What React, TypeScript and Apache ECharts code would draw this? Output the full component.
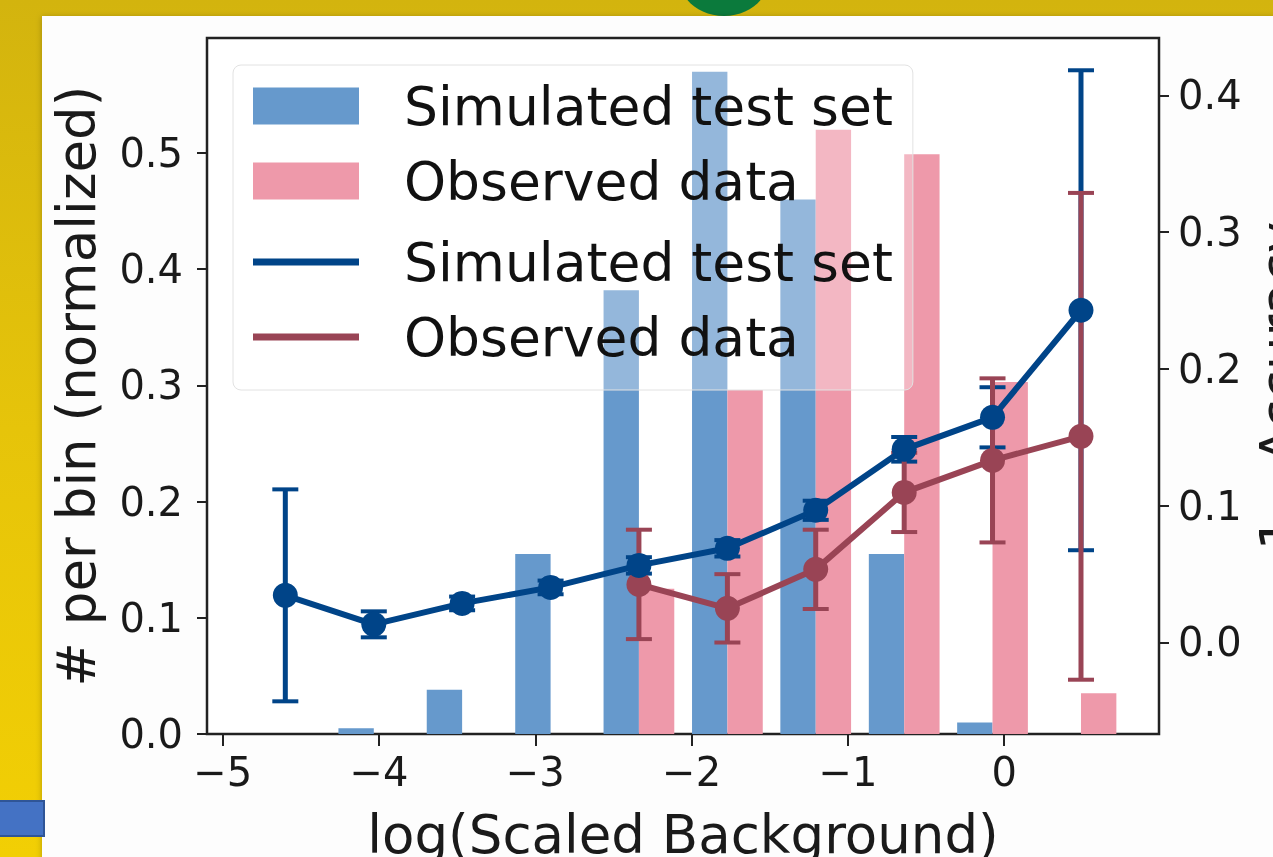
import React, { useEffect, useRef } from "react";
import * as echarts from "echarts";

// Histogram bins (centers in log(Scaled Background))
const binCenters = [-4.599, -4.033, -3.468, -2.902, -2.337, -1.771, -1.206, -0.64, -0.075, 0.491];
const binWidth = 0.5656;
// # per bin (normalized)
const simHist = [0, 0.005, 0.038, 0.155, 0.382, 0.57, 0.46, 0.155, 0.01, 0];
const obsHist = [0, 0, 0, 0, 0.125, 0.296, 0.52, 0.499, 0.303, 0.035];
// 1 - Accuracy with error
const simRate = [0.0344, 0.0132, 0.0285, 0.0402, 0.0563, 0.0688, 0.0966, 0.1412, 0.1646, 0.2429];
const simErr = [0.0775, 0.0095, 0.005, 0.005, 0.006, 0.006, 0.007, 0.009, 0.022, 0.1755];
const obsRate = [null, null, null, null, 0.0424, 0.0249, 0.0534, 0.1097, 0.1331, 0.1507];
const obsErr = [null, null, null, null, 0.04, 0.025, 0.029, 0.029, 0.06, 0.178];

const xTicks = [-5, -4, -3, -2, -1, 0];
const leftTicks = [0, 0.1, 0.2, 0.3, 0.4, 0.5];
const rightTicks = [0, 0.1, 0.2, 0.3, 0.4];

const LIGHT_BLUE = "#6699CC";
const LIGHT_RED = "#EE99AA";
const DARK_BLUE = "#004488";
const DARK_RED = "#994455";
const FONT = "DejaVu Sans";
const AX = "#222";

const lineIcon = "path://M0,0h0.01v0.01h-0.01z M0,15h106v7h-106z M105.99,36.99h0.01v0.01h-0.01z";

function barRenderer(offL: number, offR: number, color: string) {
  return (params: any, api: any) => {
    const c = api.value(0);
    const v = api.value(1);
    if (!v) return null;
    const p0 = api.coord([c + offL * binWidth, v]);
    const p1 = api.coord([c + offR * binWidth, 0]);
    return {
      type: "rect",
      shape: { x: p0[0], y: p0[1], width: p1[0] - p0[0], height: p1[1] - p0[1] },
      style: { fill: color },
    };
  };
}

function errRenderer(color: string) {
  return (params: any, api: any) => {
    const x = api.value(0);
    const y = api.value(1);
    const e = api.value(2);
    const t = api.coord([x, y + e]);
    const b = api.coord([x, y - e]);
    const cap = 13;
    return {
      type: "group",
      children: [
        { type: "line", shape: { x1: t[0], y1: t[1], x2: b[0], y2: b[1] }, style: { stroke: color, lineWidth: 5 } },
        { type: "line", shape: { x1: t[0] - cap, y1: t[1], x2: t[0] + cap, y2: t[1] }, style: { stroke: color, lineWidth: 4 } },
        { type: "line", shape: { x1: b[0] - cap, y1: b[1], x2: b[0] + cap, y2: b[1] }, style: { stroke: color, lineWidth: 4 } },
      ],
    };
  };
}

export default function App() {
  const ref = useRef<HTMLDivElement>(null);
  useEffect(() => {
    const chart = echarts.init(ref.current!, null, { renderer: "svg" });

    const simBars = binCenters.map((c, i) => [c, simHist[i]]);
    const obsBars = binCenters.map((c, i) => [c, obsHist[i]]);
    const simPts = binCenters.map((c, i) => [c, simRate[i]]);
    const simErrData = binCenters.map((c, i) => [c, simRate[i], simErr[i]]);
    const obsPts = binCenters
      .map((c, i) => [c, obsRate[i]])
      .filter((d) => d[1] !== null);
    const obsErrData = binCenters
      .map((c, i) => [c, obsRate[i], obsErr[i]])
      .filter((d) => d[1] !== null);

    const tickLabel = { fontFamily: FONT, fontSize: 40, color: "#1a1a1a" };
    const legendText = { fontFamily: FONT, fontSize: 53.5, color: "#111", padding: [0, 0, 0, 40] };

    chart.setOption({
      animation: false,
      graphic: [
        {
          type: "rect",
          z: -20,
          shape: { x: 0, y: 0, width: 1273, height: 857 },
          style: {
            fill: new echarts.graphic.LinearGradient(0, 0, 0, 1, [
              { offset: 0, color: "#d3b40e" },
              { offset: 0.5, color: "#e6c40a" },
              { offset: 1, color: "#f2cf04" },
            ]),
          },
        },
        {
          type: "ellipse",
          z: -19,
          shape: { cx: 724, cy: -20, rx: 44, ry: 36 },
          style: { fill: "#0b7a3c" },
        },
        {
          type: "rect",
          z: -18,
          shape: { x: 42, y: 16, width: 1240, height: 850 },
          style: { fill: "#fdfdfd", shadowBlur: 6, shadowColor: "rgba(0,0,0,0.25)", shadowOffsetY: 1 },
        },
        {
          type: "rect",
          z: 50,
          shape: { x: -2, y: 801, width: 46, height: 35 },
          style: { fill: "#4472c4", stroke: "#2f5597", lineWidth: 2 },
        },
      ],
      grid: {
        left: 207,
        right: 114,
        top: 38,
        bottom: 123,
        outerBoundsMode: "none",
        containLabel: false,
        show: true,
        backgroundColor: "#ffffff",
        borderColor: AX,
        borderWidth: 2.5,
      },
      legend: [
        {
          left: 233,
          top: 65,
          orient: "vertical",
          selectedMode: false,
          itemWidth: 106,
          itemHeight: 37,
          itemGap: 21,
          padding: [14, 20, 182, 20],
          backgroundColor: "rgba(255,255,255,0.3)",
          borderColor: "#e2e2e2",
          borderWidth: 1,
          borderRadius: 8,
          z: 10,
          textStyle: legendText,
          data: [
            { name: "Simulated test set", icon: "rect", itemStyle: { color: LIGHT_BLUE } },
            { name: "Observed data", icon: "rect", itemStyle: { color: LIGHT_RED } },
          ],
        },
        {
          left: 253,
          top: 235,
          orient: "vertical",
          selectedMode: false,
          itemWidth: 106,
          itemHeight: 37,
          itemGap: 21,
          padding: 0,
          z: 11,
          textStyle: legendText,
          data: [
            { name: "Simulated test set", icon: lineIcon, itemStyle: { color: DARK_BLUE } },
            { name: "Observed data", icon: lineIcon, itemStyle: { color: DARK_RED } },
          ],
        },
      ],
      xAxis: {
        type: "value",
        min: -5.1,
        max: 0.99,
        name: "log(Scaled Background)",
        nameLocation: "middle",
        nameGap: 74,
        nameTextStyle: { fontFamily: FONT, fontSize: 53, color: "#1a1a1a" },
        axisLine: { show: true, onZero: false, lineStyle: { color: AX, width: 2 } },
        axisTick: { show: true, length: 12, lineStyle: { color: AX, width: 2 }, customValues: xTicks },
        axisLabel: {
          ...tickLabel,
          margin: 18,
          customValues: xTicks,
          formatter: (v: number) => (v < 0 ? "\u2212" + Math.abs(v) : String(v)),
        },
        splitLine: { show: false },
      },
      yAxis: [
        {
          type: "value",
          position: "left",
          min: 0,
          max: 0.599,
          name: "# per bin (normalized)",
          nameLocation: "middle",
          nameGap: 104,
          nameTextStyle: { fontFamily: FONT, fontSize: 53, color: "#1a1a1a" },
          axisLine: { show: true, onZero: false, lineStyle: { color: AX, width: 2 } },
          axisTick: { show: true, length: 10, lineStyle: { color: AX, width: 2 }, customValues: leftTicks },
          axisLabel: { ...tickLabel, margin: 24, customValues: leftTicks, formatter: (v: number) => v.toFixed(1) },
          splitLine: { show: false },
        },
        {
          type: "value",
          position: "right",
          min: -0.067,
          max: 0.442,
          name: "1 - Accuracy",
          nameLocation: "middle",
          nameGap: 94,
          nameTextStyle: { fontFamily: FONT, fontSize: 53, color: "#1a1a1a" },
          axisLine: { show: true, onZero: false, lineStyle: { color: AX, width: 2 } },
          axisTick: { show: true, length: 10, lineStyle: { color: AX, width: 2 }, customValues: rightTicks },
          axisLabel: { ...tickLabel, margin: 19, customValues: rightTicks, formatter: (v: number) => v.toFixed(1) },
          splitLine: { show: false },
        },
      ],
      series: [
        {
          name: "Simulated test set",
          type: "custom",
          xAxisIndex: 0,
          yAxisIndex: 0,
          z: 2,
          clip: false,
          encode: { x: 0, y: 1 },
          renderItem: barRenderer(-0.4, 0, LIGHT_BLUE),
          data: simBars,
        },
        {
          name: "Observed data",
          type: "custom",
          xAxisIndex: 0,
          yAxisIndex: 0,
          z: 2,
          clip: false,
          encode: { x: 0, y: 1 },
          renderItem: barRenderer(0, 0.4, LIGHT_RED),
          data: obsBars,
        },
        {
          name: "Simulated test set",
          type: "custom",
          xAxisIndex: 0,
          yAxisIndex: 1,
          z: 3,
          clip: false,
          encode: { x: 0, y: 1 },
          renderItem: errRenderer(DARK_BLUE),
          data: simErrData,
        },
        {
          name: "Observed data",
          type: "custom",
          xAxisIndex: 0,
          yAxisIndex: 1,
          z: 4,
          clip: false,
          encode: { x: 0, y: 1 },
          renderItem: errRenderer(DARK_RED),
          data: obsErrData,
        },
        {
          name: "Observed data",
          type: "line",
          xAxisIndex: 0,
          yAxisIndex: 1,
          z: 5,
          symbol: "circle",
          symbolSize: 25,
          showSymbol: true,
          lineStyle: { color: DARK_RED, width: 6 },
          itemStyle: { color: DARK_RED },
          data: obsPts,
        },
        {
          name: "Simulated test set",
          type: "line",
          xAxisIndex: 0,
          yAxisIndex: 1,
          z: 6,
          symbol: "circle",
          symbolSize: 25,
          showSymbol: true,
          lineStyle: { color: DARK_BLUE, width: 6 },
          itemStyle: { color: DARK_BLUE },
          data: simPts,
        },
      ],
    });
    return () => chart.dispose();
  }, []);
  return (
    <div
      ref={ref}
      style={{ position: "fixed", left: 0, top: 0, width: 1273, height: 857 }}
    />
  );
}
